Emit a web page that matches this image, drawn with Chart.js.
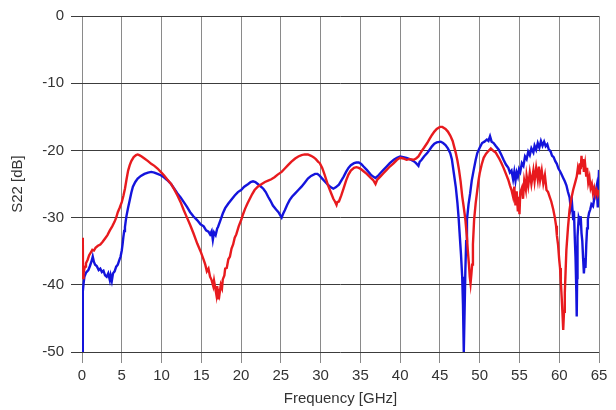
<!DOCTYPE html>
<html lang="en">
<head>
<meta charset="UTF-8">
<title>S22 vs Frequency</title>
<script src="https://cdn.jsdelivr.net/npm/chart.js"></script>
<style>
  html, body { margin: 0; padding: 0; background: #ffffff; }
  .chart-box { position: relative; width: 616px; height: 410px; }
</style>
</head>
<body>
<div class="chart-box"><canvas id="s22Chart"></canvas></div>
<script>
// Frequency ticks and S22 ticks
const freqTicks = [0, 5, 10, 15, 20, 25, 30, 35, 40, 45, 50, 55, 60, 65];
const dbTicks = [0, -10, -20, -30, -40, -50];

// red trace (GHz / dB)
const redFreq = [0.08,0.1,0.13,0.2,0.3,0.4,0.5,0.7,0.9,1.1,1.3,1.5,1.7,2.0,2.3,2.6,2.9,3.2,3.5,3.8,4.1,4.3,4.5,4.75,5.0,5.2,5.4,5.6,5.8,6.0,6.2,6.5,6.8,7.0,7.2,7.5,7.85,8.3,8.7,9.1,9.5,9.9,10.3,10.7,11.2,11.6,12.0,12.4,12.8,13.2,13.6,14.0,14.5,14.9,15.3,15.5,15.7,15.9,16.1,16.3,16.5,16.6,16.8,16.9,17.0,17.1,17.2,17.3,17.45,17.6,17.7,17.9,18.0,18.2,18.4,18.6,18.8,19.0,19.2,19.4,19.7,20.0,20.25,20.5,20.8,21.1,21.4,21.7,22.1,22.6,23.0,23.4,23.8,24.2,24.6,25.1,25.5,25.9,26.3,26.8,27.2,27.6,28.0,28.4,28.8,29.1,29.4,29.7,29.9,30.2,30.5,30.9,31.2,31.4,31.6,31.8,32.0,32.1,32.3,32.4,32.6,32.9,33.2,33.5,33.8,34.2,34.5,34.8,35.1,35.4,35.8,36.3,36.6,36.9,37.1,37.5,37.9,38.3,38.7,39.2,39.6,40.0,40.4,40.8,41.2,41.7,42.0,42.3,42.7,43.0,43.4,43.7,44.0,44.3,44.6,45.0,45.3,45.7,46.0,46.3,46.6,47.0,47.2,47.4,47.6,47.8,48.0,48.2,48.4,48.5,48.65,48.75,48.85,48.95,49.05,49.15,49.3,49.5,49.7,49.85,50.0,50.25,50.5,50.8,51.1,51.4,51.75,52.0,52.4,52.7,53.0,53.3,53.6,53.8,54.0,54.2,54.35,54.5,54.65,54.8,54.9,55.0,55.1,55.3,55.45,55.6,55.8,55.9,56.1,56.3,56.5,56.75,56.9,57.1,57.3,57.45,57.6,57.8,58.0,58.2,58.4,58.6,58.8,59.0,59.25,59.45,59.6,59.7,59.85,60.0,60.1,60.2,60.3,60.4,60.5,60.6,60.7,60.8,60.9,61.1,61.3,61.5,61.75,62.0,62.2,62.35,62.5,62.6,62.7,62.8,62.9,63.0,63.1,63.25,63.4,63.5,63.65,63.8,63.95,64.1,64.25,64.4,64.55,64.7,64.85,65.0];
const redS22 = [-38.5,-33.0,-39.0,-38.2,-37.6,-37.3,-36.8,-36.3,-35.6,-35.2,-34.8,-34.9,-34.5,-34.2,-34.0,-33.6,-33.1,-32.6,-31.9,-31.3,-30.6,-30.0,-29.2,-28.5,-27.7,-26.8,-25.7,-24.3,-23.0,-22.2,-21.6,-21.0,-20.7,-20.6,-20.7,-20.9,-21.2,-21.6,-22.0,-22.3,-22.7,-23.2,-23.7,-24.3,-25.0,-25.8,-26.7,-27.7,-28.9,-30.0,-31.1,-32.3,-33.9,-35.0,-36.3,-37.0,-38.0,-37.6,-38.8,-39.3,-40.2,-39.4,-40.8,-41.5,-40.2,-42.0,-40.6,-41.3,-40.0,-40.5,-39.2,-38.6,-37.6,-37.5,-36.2,-35.8,-34.6,-34.0,-33.0,-32.5,-31.3,-30.4,-29.5,-28.7,-27.9,-27.2,-26.5,-25.9,-25.4,-25.0,-24.7,-24.5,-24.3,-24.0,-23.6,-23.2,-22.7,-22.2,-21.7,-21.2,-20.9,-20.7,-20.6,-20.6,-20.8,-21.0,-21.3,-21.7,-21.9,-22.6,-23.6,-25.1,-26.0,-26.6,-27.2,-27.6,-28.1,-27.7,-27.6,-27.3,-26.7,-25.6,-24.5,-23.6,-23.0,-22.6,-22.5,-22.6,-22.8,-23.1,-23.5,-24.1,-24.4,-25.0,-24.4,-23.9,-23.4,-22.9,-22.4,-21.9,-21.4,-21.1,-21.2,-21.4,-21.3,-21.4,-21.2,-20.9,-20.1,-19.6,-18.9,-18.3,-17.7,-17.2,-16.8,-16.5,-16.5,-16.8,-17.2,-17.8,-18.6,-20.4,-21.5,-22.9,-24.6,-26.8,-28.5,-30.3,-33.0,-34.8,-37.0,-38.8,-39.8,-38.5,-37.0,-34.0,-30.3,-27.8,-25.9,-24.5,-23.4,-22.1,-21.1,-20.5,-20.1,-19.7,-20.1,-20.3,-21.1,-21.8,-22.6,-23.5,-24.4,-25.2,-25.9,-26.9,-25.4,-28.2,-26.1,-29.1,-26.9,-29.5,-26.3,-25.6,-27.2,-24.5,-25.8,-23.8,-25.3,-23.3,-25.0,-23.0,-24.6,-22.6,-24.3,-22.4,-24.4,-23.0,-24.9,-23.7,-25.9,-26.2,-26.9,-27.6,-28.8,-30.0,-31.2,-32.6,-34.0,-36.3,-37.5,-39.5,-41.7,-44.0,-46.7,-44.0,-41.2,-38.0,-34.8,-31.5,-28.8,-27.3,-25.9,-24.8,-23.9,-22.6,-23.4,-21.9,-22.8,-20.8,-22.5,-21.3,-23.2,-22.0,-23.9,-22.6,-24.8,-24.0,-25.6,-25.0,-26.4,-25.6,-26.6,-25.9,-26.6,-25.9];

// blue trace (GHz / dB)
const blueFreq = [0.05,0.08,0.12,0.2,0.3,0.5,0.8,1.0,1.25,1.35,1.5,1.65,1.85,2.1,2.3,2.5,2.7,2.9,3.1,3.3,3.5,3.6,3.75,3.9,4.1,4.3,4.5,4.7,4.85,5.0,5.1,5.2,5.3,5.4,5.5,5.6,5.8,6.0,6.2,6.4,6.7,7.0,7.4,7.85,8.3,8.7,9.1,9.5,9.9,10.3,10.7,11.2,11.6,12.0,12.4,12.8,13.2,13.6,14.0,14.5,14.9,15.3,15.6,15.9,16.1,16.3,16.45,16.6,16.8,17.0,17.1,17.4,17.7,18.0,18.4,18.8,19.2,19.6,20.0,20.4,20.9,21.2,21.5,21.8,22.1,22.4,22.8,23.1,23.4,23.7,24.0,24.4,24.7,24.9,25.1,25.3,25.5,25.8,26.1,26.4,26.8,27.2,27.6,28.0,28.4,28.8,29.3,29.6,29.9,30.2,30.5,30.9,31.2,31.6,31.9,32.3,32.6,32.9,33.2,33.5,33.8,34.2,34.5,34.8,35.1,35.4,35.8,36.3,36.6,36.9,37.2,37.5,37.9,38.3,38.7,39.2,39.6,40.0,40.4,40.8,41.2,41.7,42.0,42.3,42.45,42.7,43.0,43.4,43.7,44.0,44.3,44.6,45.1,45.4,45.7,46.0,46.3,46.5,46.75,47.0,47.2,47.35,47.5,47.65,47.8,47.9,48.0,48.1,48.2,48.3,48.4,48.6,48.8,49.0,49.25,49.5,49.7,50.0,50.3,50.6,50.9,51.1,51.3,51.5,51.75,52.0,52.4,52.7,53.0,53.3,53.6,53.8,54.0,54.2,54.35,54.5,54.65,54.8,54.95,55.1,55.3,55.5,55.7,55.9,56.1,56.3,56.5,56.75,56.9,57.1,57.3,57.5,57.7,57.9,58.1,58.3,58.5,58.7,58.9,59.1,59.3,59.5,59.7,59.9,60.1,60.3,60.5,60.7,60.9,61.1,61.3,61.45,61.6,61.75,61.85,61.95,62.05,62.15,62.2,62.25,62.3,62.45,62.6,62.7,62.8,62.9,63.0,63.1,63.2,63.3,63.4,63.5,63.6,63.75,63.9,64.05,64.25,64.4,64.55,64.7,64.85,64.9,65.0];
const blueS22 = [-50.0,-46.0,-41.0,-39.8,-38.8,-38.2,-37.8,-37.2,-36.3,-35.8,-36.6,-37.0,-37.2,-37.8,-37.6,-38.1,-37.9,-38.6,-38.8,-38.3,-39.3,-38.6,-39.4,-38.3,-38.0,-37.3,-37.0,-36.3,-35.8,-34.9,-34.0,-32.9,-32.0,-31.4,-30.5,-29.7,-28.5,-27.4,-26.3,-25.4,-24.7,-24.2,-23.8,-23.5,-23.3,-23.2,-23.3,-23.5,-23.7,-24.0,-24.4,-25.0,-25.7,-26.4,-27.0,-27.7,-28.4,-29.2,-29.8,-30.4,-31.0,-31.3,-31.9,-32.1,-32.5,-32.0,-33.3,-32.2,-32.6,-31.6,-31.4,-30.4,-29.4,-28.6,-27.9,-27.3,-26.7,-26.2,-25.9,-25.4,-25.0,-24.7,-24.6,-24.7,-25.0,-25.3,-25.7,-26.2,-26.9,-27.5,-28.2,-28.8,-29.2,-29.6,-30.0,-29.4,-28.9,-28.1,-27.4,-26.9,-26.4,-25.9,-25.4,-24.8,-24.2,-23.8,-23.5,-23.5,-23.8,-24.2,-24.6,-25.1,-25.4,-25.7,-25.5,-25.1,-24.5,-23.9,-23.2,-22.6,-22.2,-21.9,-21.8,-21.8,-22.0,-22.4,-22.9,-23.6,-23.9,-24.1,-23.8,-23.4,-22.9,-22.4,-21.9,-21.4,-21.1,-20.9,-21.0,-21.1,-21.3,-21.6,-21.9,-22.3,-21.7,-21.4,-20.9,-20.4,-19.9,-19.4,-19.0,-18.8,-18.7,-18.9,-19.2,-19.7,-20.4,-21.3,-23.4,-25.5,-27.8,-30.0,-32.8,-35.5,-38.8,-43.0,-50.0,-44.0,-37.8,-33.5,-30.3,-28.0,-26.4,-24.5,-22.9,-21.4,-20.4,-19.6,-18.9,-18.7,-18.4,-18.6,-17.9,-18.7,-18.9,-19.3,-19.9,-20.6,-21.4,-22.1,-22.6,-23.3,-23.0,-24.3,-23.2,-24.5,-23.3,-23.9,-22.8,-23.2,-21.9,-22.3,-20.9,-21.3,-20.2,-20.7,-19.7,-20.3,-19.3,-19.9,-18.9,-19.6,-18.6,-19.3,-18.7,-19.4,-19.1,-19.9,-20.1,-20.8,-21.0,-21.6,-22.0,-22.7,-23.1,-23.6,-24.1,-24.6,-25.2,-26.2,-27.0,-28.6,-27.8,-30.2,-29.0,-32.8,-36.0,-41.0,-44.7,-39.0,-32.8,-30.0,-30.6,-29.8,-32.3,-33.5,-36.0,-38.3,-36.5,-37.5,-34.0,-31.6,-30.3,-29.3,-28.8,-28.0,-28.3,-27.2,-26.4,-25.4,-28.5,-26.0,-22.9];

function toPoints(xs, ys) {
  return xs.map((x, i) => ({ x: x, y: ys[i] }));
}

const textColor = '#333333';
const font = { family: "'Liberation Sans', Arial, sans-serif", size: 15 };

new Chart(document.getElementById('s22Chart'), {
  type: 'line',
  data: {
    datasets: [
      {
        label: 'red',
        data: toPoints(redFreq, redS22),
        borderColor: 'rgb(232, 26, 30)',
        borderWidth: 2.4,
        pointRadius: 0,
        tension: 0,
        fill: false
      },
      {
        label: 'blue',
        data: toPoints(blueFreq, blueS22),
        borderColor: 'rgb(20, 20, 220)',
        borderWidth: 2.4,
        pointRadius: 0,
        tension: 0,
        fill: false
      }
    ]
  },
  options: {
    responsive: true,
    maintainAspectRatio: false,
    animation: false,
    layout: { padding: { top: 16, right: 17, bottom: 0, left: 0 } },
    plugins: {
      legend: { display: false },
      tooltip: { enabled: false }
    },
    scales: {
      x: {
        type: 'linear',
        min: 0,
        max: 65,
        afterBuildTicks: (scale) => { scale.ticks = freqTicks.map(v => ({ value: v })); },
        afterFit: (scale) => { scale.height = 58; },
        ticks: { color: textColor, font: font, padding: 4, maxRotation: 0 },
        grid: { color: '#8a8a8a', lineWidth: 1, tickLength: 11 },
        border: { display: false },
        title: { display: true, text: 'Frequency [GHz]', color: textColor, font: font, padding: { top: 0, bottom: 2 } }
      },
      y: {
        type: 'linear',
        min: -50,
        max: 0,
        afterBuildTicks: (scale) => { scale.ticks = dbTicks.map(v => ({ value: v })); },
        afterFit: (scale) => { scale.width = 82; },
        ticks: { color: textColor, font: font, padding: 7 },
        grid: { color: '#3c3c3c', lineWidth: 1, tickLength: 11 },
        border: { display: false },
        title: { display: true, text: 'S22 [dB]', color: textColor, font: font, padding: { top: 9, bottom: 0 } }
      }
    }
  }
});
</script>
</body>
</html>
